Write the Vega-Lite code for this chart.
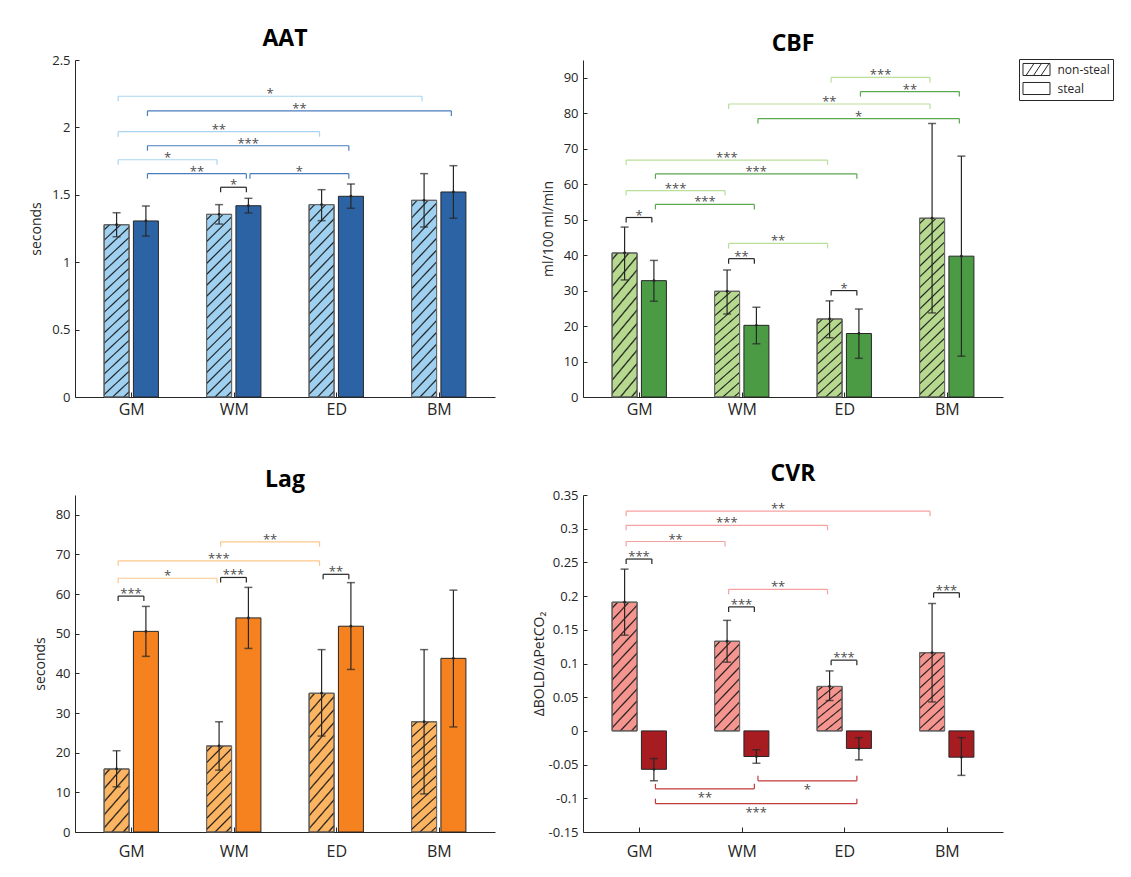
{
"$schema": "https://vega.github.io/schema/vega-lite/v6.json",
"background": "white",
"padding": {"left": 29, "top": 28, "right": 5, "bottom": 5},
"bounds": "flush",
"columns": 2,
"spacing": {"row": 98, "column": 88},
"resolve": {"scale": {"fill": "independent", "stroke": "independent"}, "legend": {"fill": "independent"}},
"params": [
{"name": "h55", "value": {"gradient": "linear", "x1": 0, "y1": 0, "x2": 0.548, "y2": 1.205, "stops": [
{"offset": 0.0514, "color": "rgba(0,0,0,0)"}, {"offset": 0.0714, "color": "#1e1e1e"}, {"offset": 0.0914, "color": "rgba(0,0,0,0)"},
{"offset": 0.1943, "color": "rgba(0,0,0,0)"}, {"offset": 0.2143, "color": "#1e1e1e"}, {"offset": 0.2343, "color": "rgba(0,0,0,0)"},
{"offset": 0.3371, "color": "rgba(0,0,0,0)"}, {"offset": 0.3571, "color": "#1e1e1e"}, {"offset": 0.3771, "color": "rgba(0,0,0,0)"},
{"offset": 0.48, "color": "rgba(0,0,0,0)"}, {"offset": 0.5, "color": "#1e1e1e"}, {"offset": 0.52, "color": "rgba(0,0,0,0)"},
{"offset": 0.6229, "color": "rgba(0,0,0,0)"}, {"offset": 0.6429, "color": "#1e1e1e"}, {"offset": 0.6629, "color": "rgba(0,0,0,0)"},
{"offset": 0.7657, "color": "rgba(0,0,0,0)"}, {"offset": 0.7857, "color": "#1e1e1e"}, {"offset": 0.8057, "color": "rgba(0,0,0,0)"},
{"offset": 0.9086, "color": "rgba(0,0,0,0)"}, {"offset": 0.9286, "color": "#1e1e1e"}, {"offset": 0.9486, "color": "rgba(0,0,0,0)"}]}},
{"name": "h85", "value": {"gradient": "linear", "x1": 0, "y1": 0, "x2": 0.35, "y2": 1.191, "stops": [
{"offset": 0.036, "color": "rgba(0,0,0,0)"}, {"offset": 0.05, "color": "#1e1e1e"}, {"offset": 0.064, "color": "rgba(0,0,0,0)"},
{"offset": 0.136, "color": "rgba(0,0,0,0)"}, {"offset": 0.15, "color": "#1e1e1e"}, {"offset": 0.164, "color": "rgba(0,0,0,0)"},
{"offset": 0.236, "color": "rgba(0,0,0,0)"}, {"offset": 0.25, "color": "#1e1e1e"}, {"offset": 0.264, "color": "rgba(0,0,0,0)"},
{"offset": 0.336, "color": "rgba(0,0,0,0)"}, {"offset": 0.35, "color": "#1e1e1e"}, {"offset": 0.364, "color": "rgba(0,0,0,0)"},
{"offset": 0.436, "color": "rgba(0,0,0,0)"}, {"offset": 0.45, "color": "#1e1e1e"}, {"offset": 0.464, "color": "rgba(0,0,0,0)"},
{"offset": 0.536, "color": "rgba(0,0,0,0)"}, {"offset": 0.55, "color": "#1e1e1e"}, {"offset": 0.564, "color": "rgba(0,0,0,0)"},
{"offset": 0.636, "color": "rgba(0,0,0,0)"}, {"offset": 0.65, "color": "#1e1e1e"}, {"offset": 0.664, "color": "rgba(0,0,0,0)"},
{"offset": 0.736, "color": "rgba(0,0,0,0)"}, {"offset": 0.75, "color": "#1e1e1e"}, {"offset": 0.764, "color": "rgba(0,0,0,0)"},
{"offset": 0.836, "color": "rgba(0,0,0,0)"}, {"offset": 0.85, "color": "#1e1e1e"}, {"offset": 0.864, "color": "rgba(0,0,0,0)"},
{"offset": 0.936, "color": "rgba(0,0,0,0)"}, {"offset": 0.95, "color": "#1e1e1e"}, {"offset": 0.964, "color": "rgba(0,0,0,0)"}]}},
{"name": "h120", "value": {"gradient": "linear", "x1": 0, "y1": 0, "x2": 0.241, "y2": 1.158, "stops": [
{"offset": 0.0277, "color": "rgba(0,0,0,0)"}, {"offset": 0.0385, "color": "#1e1e1e"}, {"offset": 0.0492, "color": "rgba(0,0,0,0)"},
{"offset": 0.1046, "color": "rgba(0,0,0,0)"}, {"offset": 0.1154, "color": "#1e1e1e"}, {"offset": 0.1262, "color": "rgba(0,0,0,0)"},
{"offset": 0.1815, "color": "rgba(0,0,0,0)"}, {"offset": 0.1923, "color": "#1e1e1e"}, {"offset": 0.2031, "color": "rgba(0,0,0,0)"},
{"offset": 0.2585, "color": "rgba(0,0,0,0)"}, {"offset": 0.2692, "color": "#1e1e1e"}, {"offset": 0.28, "color": "rgba(0,0,0,0)"},
{"offset": 0.3354, "color": "rgba(0,0,0,0)"}, {"offset": 0.3462, "color": "#1e1e1e"}, {"offset": 0.3569, "color": "rgba(0,0,0,0)"},
{"offset": 0.4123, "color": "rgba(0,0,0,0)"}, {"offset": 0.4231, "color": "#1e1e1e"}, {"offset": 0.4338, "color": "rgba(0,0,0,0)"},
{"offset": 0.4892, "color": "rgba(0,0,0,0)"}, {"offset": 0.5, "color": "#1e1e1e"}, {"offset": 0.5108, "color": "rgba(0,0,0,0)"},
{"offset": 0.5662, "color": "rgba(0,0,0,0)"}, {"offset": 0.5769, "color": "#1e1e1e"}, {"offset": 0.5877, "color": "rgba(0,0,0,0)"},
{"offset": 0.6431, "color": "rgba(0,0,0,0)"}, {"offset": 0.6538, "color": "#1e1e1e"}, {"offset": 0.6646, "color": "rgba(0,0,0,0)"},
{"offset": 0.72, "color": "rgba(0,0,0,0)"}, {"offset": 0.7308, "color": "#1e1e1e"}, {"offset": 0.7415, "color": "rgba(0,0,0,0)"},
{"offset": 0.7969, "color": "rgba(0,0,0,0)"}, {"offset": 0.8077, "color": "#1e1e1e"}, {"offset": 0.8185, "color": "rgba(0,0,0,0)"},
{"offset": 0.8738, "color": "rgba(0,0,0,0)"}, {"offset": 0.8846, "color": "#1e1e1e"}, {"offset": 0.8954, "color": "rgba(0,0,0,0)"},
{"offset": 0.9508, "color": "rgba(0,0,0,0)"}, {"offset": 0.9615, "color": "#1e1e1e"}, {"offset": 0.9723, "color": "rgba(0,0,0,0)"}]}},
{"name": "h185", "value": {"gradient": "linear", "x1": 0, "y1": 0, "x2": 0.151, "y2": 1.115, "stops": [
{"offset": 0.0189, "color": "rgba(0,0,0,0)"}, {"offset": 0.0263, "color": "#1e1e1e"}, {"offset": 0.0337, "color": "rgba(0,0,0,0)"},
{"offset": 0.0716, "color": "rgba(0,0,0,0)"}, {"offset": 0.0789, "color": "#1e1e1e"}, {"offset": 0.0863, "color": "rgba(0,0,0,0)"},
{"offset": 0.1242, "color": "rgba(0,0,0,0)"}, {"offset": 0.1316, "color": "#1e1e1e"}, {"offset": 0.139, "color": "rgba(0,0,0,0)"},
{"offset": 0.1768, "color": "rgba(0,0,0,0)"}, {"offset": 0.1842, "color": "#1e1e1e"}, {"offset": 0.1916, "color": "rgba(0,0,0,0)"},
{"offset": 0.2295, "color": "rgba(0,0,0,0)"}, {"offset": 0.2368, "color": "#1e1e1e"}, {"offset": 0.2442, "color": "rgba(0,0,0,0)"},
{"offset": 0.2821, "color": "rgba(0,0,0,0)"}, {"offset": 0.2895, "color": "#1e1e1e"}, {"offset": 0.2968, "color": "rgba(0,0,0,0)"},
{"offset": 0.3347, "color": "rgba(0,0,0,0)"}, {"offset": 0.3421, "color": "#1e1e1e"}, {"offset": 0.3495, "color": "rgba(0,0,0,0)"},
{"offset": 0.3874, "color": "rgba(0,0,0,0)"}, {"offset": 0.3947, "color": "#1e1e1e"}, {"offset": 0.4021, "color": "rgba(0,0,0,0)"},
{"offset": 0.44, "color": "rgba(0,0,0,0)"}, {"offset": 0.4474, "color": "#1e1e1e"}, {"offset": 0.4547, "color": "rgba(0,0,0,0)"},
{"offset": 0.4926, "color": "rgba(0,0,0,0)"}, {"offset": 0.5, "color": "#1e1e1e"}, {"offset": 0.5074, "color": "rgba(0,0,0,0)"},
{"offset": 0.5453, "color": "rgba(0,0,0,0)"}, {"offset": 0.5526, "color": "#1e1e1e"}, {"offset": 0.56, "color": "rgba(0,0,0,0)"},
{"offset": 0.5979, "color": "rgba(0,0,0,0)"}, {"offset": 0.6053, "color": "#1e1e1e"}, {"offset": 0.6126, "color": "rgba(0,0,0,0)"},
{"offset": 0.6505, "color": "rgba(0,0,0,0)"}, {"offset": 0.6579, "color": "#1e1e1e"}, {"offset": 0.6653, "color": "rgba(0,0,0,0)"},
{"offset": 0.7032, "color": "rgba(0,0,0,0)"}, {"offset": 0.7105, "color": "#1e1e1e"}, {"offset": 0.7179, "color": "rgba(0,0,0,0)"},
{"offset": 0.7558, "color": "rgba(0,0,0,0)"}, {"offset": 0.7632, "color": "#1e1e1e"}, {"offset": 0.7705, "color": "rgba(0,0,0,0)"},
{"offset": 0.8084, "color": "rgba(0,0,0,0)"}, {"offset": 0.8158, "color": "#1e1e1e"}, {"offset": 0.8232, "color": "rgba(0,0,0,0)"},
{"offset": 0.8611, "color": "rgba(0,0,0,0)"}, {"offset": 0.8684, "color": "#1e1e1e"}, {"offset": 0.8758, "color": "rgba(0,0,0,0)"},
{"offset": 0.9137, "color": "rgba(0,0,0,0)"}, {"offset": 0.9211, "color": "#1e1e1e"}, {"offset": 0.9284, "color": "rgba(0,0,0,0)"},
{"offset": 0.9663, "color": "rgba(0,0,0,0)"}, {"offset": 0.9737, "color": "#1e1e1e"}, {"offset": 0.9811, "color": "rgba(0,0,0,0)"}]}}
],
"datasets": {
"bars": [
{"panel": "AAT", "region": "GM", "cond": "non-steal", "mean": 1.278, "lo": 1.189, "hi": 1.367},
{"panel": "AAT", "region": "GM", "cond": "steal", "mean": 1.306, "lo": 1.194, "hi": 1.417},
{"panel": "AAT", "region": "WM", "cond": "non-steal", "mean": 1.355, "lo": 1.283, "hi": 1.427},
{"panel": "AAT", "region": "WM", "cond": "steal", "mean": 1.419, "lo": 1.365, "hi": 1.474},
{"panel": "AAT", "region": "ED", "cond": "non-steal", "mean": 1.427, "lo": 1.308, "hi": 1.538},
{"panel": "AAT", "region": "ED", "cond": "steal", "mean": 1.489, "lo": 1.4, "hi": 1.58},
{"panel": "AAT", "region": "BM", "cond": "non-steal", "mean": 1.459, "lo": 1.261, "hi": 1.657},
{"panel": "AAT", "region": "BM", "cond": "steal", "mean": 1.521, "lo": 1.326, "hi": 1.716},
{"panel": "CBF", "region": "GM", "cond": "non-steal", "mean": 40.6, "lo": 33.0, "hi": 47.9},
{"panel": "CBF", "region": "GM", "cond": "steal", "mean": 32.8, "lo": 27.0, "hi": 38.5},
{"panel": "CBF", "region": "WM", "cond": "non-steal", "mean": 29.8, "lo": 23.4, "hi": 35.8},
{"panel": "CBF", "region": "WM", "cond": "steal", "mean": 20.2, "lo": 15.0, "hi": 25.3},
{"panel": "CBF", "region": "ED", "cond": "non-steal", "mean": 22.0, "lo": 16.7, "hi": 27.1},
{"panel": "CBF", "region": "ED", "cond": "steal", "mean": 17.9, "lo": 10.9, "hi": 24.8},
{"panel": "CBF", "region": "BM", "cond": "non-steal", "mean": 50.4, "lo": 23.7, "hi": 77.1},
{"panel": "CBF", "region": "BM", "cond": "steal", "mean": 39.7, "lo": 11.5, "hi": 67.9},
{"panel": "Lag", "region": "GM", "cond": "non-steal", "mean": 15.9, "lo": 11.4, "hi": 20.5},
{"panel": "Lag", "region": "GM", "cond": "steal", "mean": 50.6, "lo": 44.3, "hi": 56.9},
{"panel": "Lag", "region": "WM", "cond": "non-steal", "mean": 21.7, "lo": 15.6, "hi": 27.8},
{"panel": "Lag", "region": "WM", "cond": "steal", "mean": 54.0, "lo": 46.3, "hi": 61.7},
{"panel": "Lag", "region": "ED", "cond": "non-steal", "mean": 35.0, "lo": 24.2, "hi": 46.0},
{"panel": "Lag", "region": "ED", "cond": "steal", "mean": 51.9, "lo": 41.0, "hi": 62.9},
{"panel": "Lag", "region": "BM", "cond": "non-steal", "mean": 27.8, "lo": 9.6, "hi": 46.0},
{"panel": "Lag", "region": "BM", "cond": "steal", "mean": 43.8, "lo": 26.5, "hi": 61.0},
{"panel": "CVR", "region": "GM", "cond": "non-steal", "mean": 0.191, "lo": 0.142, "hi": 0.24},
{"panel": "CVR", "region": "GM", "cond": "steal", "mean": -0.057, "lo": -0.074, "hi": -0.041},
{"panel": "CVR", "region": "WM", "cond": "non-steal", "mean": 0.133, "lo": 0.102, "hi": 0.164},
{"panel": "CVR", "region": "WM", "cond": "steal", "mean": -0.038, "lo": -0.048, "hi": -0.028},
{"panel": "CVR", "region": "ED", "cond": "non-steal", "mean": 0.066, "lo": 0.045, "hi": 0.089},
{"panel": "CVR", "region": "ED", "cond": "steal", "mean": -0.026, "lo": -0.043, "hi": -0.01},
{"panel": "CVR", "region": "BM", "cond": "non-steal", "mean": 0.116, "lo": 0.043, "hi": 0.189},
{"panel": "CVR", "region": "BM", "cond": "steal", "mean": -0.039, "lo": -0.066, "hi": -0.01}
],
"brackets": [
{"panel": "AAT", "r1": "GM", "c1": "ns", "r2": "BM", "c2": "ns", "lev": 2.231, "label": "*", "kind": "ns"},
{"panel": "AAT", "r1": "GM", "c1": "s", "r2": "BM", "c2": "s", "lev": 2.122, "label": "**", "kind": "s"},
{"panel": "AAT", "r1": "GM", "c1": "ns", "r2": "ED", "c2": "ns", "lev": 1.968, "label": "**", "kind": "ns"},
{"panel": "AAT", "r1": "GM", "c1": "s", "r2": "ED", "c2": "s", "lev": 1.864, "label": "***", "kind": "s"},
{"panel": "AAT", "r1": "GM", "c1": "ns", "r2": "WM", "c2": "ns", "lev": 1.76, "label": "*", "kind": "ns"},
{"panel": "AAT", "r1": "GM", "c1": "s", "r2": "WM", "c2": "s", "lev": 1.657, "label": "**", "kind": "s"},
{"panel": "AAT", "r1": "WM", "c1": "s", "r2": "ED", "c2": "s", "lev": 1.657, "label": "*", "kind": "s"},
{"panel": "AAT", "r1": "WM", "c1": "ns", "r2": "WM", "c2": "s", "lev": 1.556, "label": "*", "kind": "w"},
{"panel": "CBF", "r1": "ED", "c1": "ns", "r2": "BM", "c2": "ns", "lev": 90.1, "label": "***", "kind": "ns"},
{"panel": "CBF", "r1": "ED", "c1": "s", "r2": "BM", "c2": "s", "lev": 86.1, "label": "**", "kind": "s"},
{"panel": "CBF", "r1": "WM", "c1": "ns", "r2": "BM", "c2": "ns", "lev": 82.6, "label": "**", "kind": "ns"},
{"panel": "CBF", "r1": "WM", "c1": "s", "r2": "BM", "c2": "s", "lev": 78.5, "label": "*", "kind": "s"},
{"panel": "CBF", "r1": "GM", "c1": "ns", "r2": "ED", "c2": "ns", "lev": 66.8, "label": "***", "kind": "ns"},
{"panel": "CBF", "r1": "GM", "c1": "s", "r2": "ED", "c2": "s", "lev": 62.9, "label": "***", "kind": "s"},
{"panel": "CBF", "r1": "GM", "c1": "ns", "r2": "WM", "c2": "ns", "lev": 58.2, "label": "***", "kind": "ns"},
{"panel": "CBF", "r1": "GM", "c1": "s", "r2": "WM", "c2": "s", "lev": 54.3, "label": "***", "kind": "s"},
{"panel": "CBF", "r1": "GM", "c1": "ns", "r2": "GM", "c2": "s", "lev": 50.6, "label": "*", "kind": "w"},
{"panel": "CBF", "r1": "WM", "c1": "ns", "r2": "ED", "c2": "ns", "lev": 43.3, "label": "**", "kind": "ns"},
{"panel": "CBF", "r1": "WM", "c1": "ns", "r2": "WM", "c2": "s", "lev": 39.0, "label": "**", "kind": "w"},
{"panel": "CBF", "r1": "ED", "c1": "ns", "r2": "ED", "c2": "s", "lev": 30.0, "label": "*", "kind": "w"},
{"panel": "Lag", "r1": "WM", "c1": "ns", "r2": "ED", "c2": "ns", "lev": 73.2, "label": "**", "kind": "ns"},
{"panel": "Lag", "r1": "GM", "c1": "ns", "r2": "ED", "c2": "ns", "lev": 68.4, "label": "***", "kind": "ns"},
{"panel": "Lag", "r1": "GM", "c1": "ns", "r2": "WM", "c2": "ns", "lev": 64.0, "label": "*", "kind": "ns"},
{"panel": "Lag", "r1": "WM", "c1": "ns", "r2": "WM", "c2": "s", "lev": 64.2, "label": "***", "kind": "w"},
{"panel": "Lag", "r1": "GM", "c1": "ns", "r2": "GM", "c2": "s", "lev": 59.5, "label": "***", "kind": "w"},
{"panel": "Lag", "r1": "ED", "c1": "ns", "r2": "ED", "c2": "s", "lev": 65.0, "label": "**", "kind": "w"},
{"panel": "CVR", "r1": "GM", "c1": "ns", "r2": "BM", "c2": "ns", "lev": 0.326, "label": "**", "kind": "ns"},
{"panel": "CVR", "r1": "GM", "c1": "ns", "r2": "ED", "c2": "ns", "lev": 0.305, "label": "***", "kind": "ns"},
{"panel": "CVR", "r1": "GM", "c1": "ns", "r2": "WM", "c2": "ns", "lev": 0.281, "label": "**", "kind": "ns"},
{"panel": "CVR", "r1": "GM", "c1": "ns", "r2": "GM", "c2": "s", "lev": 0.255, "label": "***", "kind": "w"},
{"panel": "CVR", "r1": "WM", "c1": "ns", "r2": "ED", "c2": "ns", "lev": 0.21, "label": "**", "kind": "ns"},
{"panel": "CVR", "r1": "WM", "c1": "ns", "r2": "WM", "c2": "s", "lev": 0.184, "label": "***", "kind": "w"},
{"panel": "CVR", "r1": "BM", "c1": "ns", "r2": "BM", "c2": "s", "lev": 0.205, "label": "***", "kind": "w"},
{"panel": "CVR", "r1": "ED", "c1": "ns", "r2": "ED", "c2": "s", "lev": 0.105, "label": "***", "kind": "w"},
{"panel": "CVR", "r1": "GM", "c1": "s", "r2": "WM", "c2": "s", "lev": -0.086, "label": "**", "kind": "s"},
{"panel": "CVR", "r1": "WM", "c1": "s", "r2": "ED", "c2": "s", "lev": -0.074, "label": "*", "kind": "s"},
{"panel": "CVR", "r1": "GM", "c1": "s", "r2": "ED", "c2": "s", "lev": -0.108, "label": "***", "kind": "s"}
]
},
"concat": [
{
"width": 420, "height": 337,
"title": {"text": "AAT"},
"layer": [
{"data": {"name": "bars"},
 "transform": [{"filter": "datum.panel == 'AAT'"}, {"calculate": "indexof(['GM','WM','ED','BM'], datum.region) + 1 + (datum.cond == 'steal' ? 0.143 : -0.143)", "as": "xp"}],
 "layer": [
  {"mark": {"type": "bar", "size": 25, "stroke": "#262626", "strokeWidth": 1},
   "encoding": {
    "x": {"field": "xp", "type": "quantitative", "scale": {"domain": [0.5, 4.5], "nice": false, "zero": false}, "axis": {"values": [1, 2, 3, 4], "labelExpr": "['GM','WM','ED','BM'][datum.value - 1]", "title": null, "grid": false, "tickSize": -5, "labelPadding": 9, "labelFontSize": 16, "labelOverlap": false, "labelColor": "#262626", "domainColor": "#262626", "tickColor": "#262626"}},
    "y": {"field": "mean", "type": "quantitative", "scale": {"domain": [0, 2.5], "nice": false, "zero": false}, "axis": {"title": "seconds", "values": [0, 0.5, 1, 1.5, 2, 2.5], "tickCount": 12, "labelExpr": "'' + datum.value", "grid": false, "tickSize": -4, "labelPadding": 9, "titlePadding": 8, "labelFontSize": 13, "titleFontSize": 14, "titleFontWeight": "normal", "labelOverlap": false, "labelColor": "#262626", "titleColor": "#262626", "domainColor": "#262626", "tickColor": "#262626"}},
    "fill": {"field": "cond", "type": "nominal", "scale": {"domain": ["non-steal", "steal"], "range": ["#9fd0ef", "#2b63a5"]}, "legend": null}}},
  {"transform": [{"filter": "datum.cond == 'non-steal'"}],
   "mark": {"type": "bar", "size": 25, "stroke": "#6e6e6e", "strokeWidth": 1, "fill": {"expr": "h185"}},
   "encoding": {"x": {"field": "xp", "type": "quantitative"}, "y": {"field": "mean", "type": "quantitative"}}},
  {"mark": {"type": "rule", "color": "#262626", "strokeWidth": 1.2},
   "encoding": {"x": {"field": "xp", "type": "quantitative"}, "y": {"field": "lo", "type": "quantitative"}, "y2": {"field": "hi"}}},
  {"transform": [{"fold": ["lo", "hi"], "as": ["end", "ev"]}],
   "mark": {"type": "tick", "orient": "horizontal", "size": 8, "thickness": 1.5, "color": "#262626"},
   "encoding": {"x": {"field": "xp", "type": "quantitative"}, "y": {"field": "ev", "type": "quantitative"}}},
  {"mark": {"type": "point", "filled": true, "size": 8, "color": "#262626", "opacity": 1},
   "encoding": {"x": {"field": "xp", "type": "quantitative"}, "y": {"field": "mean", "type": "quantitative"}}}
 ]},
{"data": {"name": "brackets"},
 "transform": [{"filter": "datum.panel == 'AAT'"},
  {"calculate": "indexof(['GM','WM','ED','BM'], datum.r1) + 1 + (datum.c1 == 's' ? 0.143 : -0.143) + 0.015", "as": "xa"},
  {"calculate": "indexof(['GM','WM','ED','BM'], datum.r2) + 1 + (datum.c2 == 's' ? 0.143 : -0.143) - 0.02", "as": "xb"},
  {"calculate": "(datum.xa + datum.xb) / 2", "as": "xm"}],
 "layer": [
  {"mark": {"type": "rule", "strokeWidth": 1.2},
   "encoding": {"x": {"field": "xa", "type": "quantitative"}, "x2": {"field": "xb"}, "y": {"field": "lev", "type": "quantitative"},
    "stroke": {"field": "kind", "type": "nominal", "scale": {"domain": ["ns", "s", "w"], "range": ["#a9d4f0", "#4a7dbf", "#262626"]}, "legend": null}}},
  {"transform": [{"fold": ["xa", "xb"], "as": ["side", "xe"]}],
   "mark": {"type": "rule", "strokeWidth": 1.2, "y2Offset": 5},
   "encoding": {"x": {"field": "xe", "type": "quantitative"}, "y": {"field": "lev", "type": "quantitative"}, "y2": {"field": "lev"},
    "stroke": {"field": "kind", "type": "nominal", "legend": null}}},
  {"mark": {"type": "text", "fontSize": 13, "baseline": "alphabetic", "dy": 2, "color": "#4d4d4d"},
   "encoding": {"x": {"field": "xm", "type": "quantitative"}, "y": {"field": "lev", "type": "quantitative"}, "text": {"field": "label"}}}
 ]}
]
},
{
"width": 420, "height": 337,
"title": {"text": "CBF"},
"layer": [
{"data": {"name": "bars"},
 "transform": [{"filter": "datum.panel == 'CBF'"}, {"calculate": "indexof(['GM','WM','ED','BM'], datum.region) + 1 + (datum.cond == 'steal' ? 0.143 : -0.143)", "as": "xp"}],
 "layer": [
  {"mark": {"type": "bar", "size": 25, "stroke": "#262626", "strokeWidth": 1},
   "encoding": {
    "x": {"field": "xp", "type": "quantitative", "scale": {"domain": [0.5, 4.5], "nice": false, "zero": false}, "axis": {"values": [1, 2, 3, 4], "labelExpr": "['GM','WM','ED','BM'][datum.value - 1]", "title": null, "grid": false, "tickSize": -5, "labelPadding": 9, "labelFontSize": 16, "labelOverlap": false, "labelColor": "#262626", "domainColor": "#262626", "tickColor": "#262626"}},
    "y": {"field": "mean", "type": "quantitative", "scale": {"domain": [0, 95], "nice": false, "zero": false}, "axis": {"title": "ml/100 ml/min", "values": [0, 10, 20, 30, 40, 50, 60, 70, 80, 90], "tickCount": 12, "labelExpr": "'' + datum.value", "grid": false, "tickSize": -4, "labelPadding": 9, "titlePadding": 8, "labelFontSize": 13, "titleFontSize": 14, "titleFontWeight": "normal", "labelOverlap": false, "labelColor": "#262626", "titleColor": "#262626", "domainColor": "#262626", "tickColor": "#262626"}},
    "fill": {"field": "cond", "type": "nominal", "scale": {"domain": ["non-steal", "steal"], "range": ["#b6d98f", "#4b9b45"]},
     "legend": {"title": null, "orient": "none", "legendX": 436, "legendY": -1, "padding": 3, "strokeColor": "#262626", "fillColor": "white", "cornerRadius": 0, "labelFontSize": 12, "labelColor": "#262626", "labelOffset": 20.5, "rowPadding": 2, "symbolSize": 196, "symbolType": "M-0.93,-0.86H2.93V0.86H-0.93Z", "symbolStrokeColor": "#262626", "symbolStrokeWidth": 1,
      "encode": {"symbols": {"update": {"shape": {"signal": "datum.value == 'non-steal' ? 'M-0.93,-0.86H2.93V0.86H-0.93Z M-0.5,0.86L0.64,-0.86 M0.57,0.86L1.71,-0.86 M1.64,0.86L2.79,-0.86' : 'M-0.93,-0.86H2.93V0.86H-0.93Z'"}, "fill": {"value": "white"}, "fillOpacity": {"value": 0}, "stroke": {"value": "#262626"}, "strokeWidth": {"value": 1}}}}}}}},
  {"transform": [{"filter": "datum.cond == 'non-steal'"}],
   "mark": {"type": "bar", "size": 25, "stroke": "#6e6e6e", "strokeWidth": 1, "fill": {"expr": "datum.mean > 45 ? h185 : datum.mean > 25 ? h120 : h85"}},
   "encoding": {"x": {"field": "xp", "type": "quantitative"}, "y": {"field": "mean", "type": "quantitative"}}},
  {"mark": {"type": "rule", "color": "#262626", "strokeWidth": 1.2},
   "encoding": {"x": {"field": "xp", "type": "quantitative"}, "y": {"field": "lo", "type": "quantitative"}, "y2": {"field": "hi"}}},
  {"transform": [{"fold": ["lo", "hi"], "as": ["end", "ev"]}],
   "mark": {"type": "tick", "orient": "horizontal", "size": 8, "thickness": 1.5, "color": "#262626"},
   "encoding": {"x": {"field": "xp", "type": "quantitative"}, "y": {"field": "ev", "type": "quantitative"}}},
  {"mark": {"type": "point", "filled": true, "size": 8, "color": "#262626", "opacity": 1},
   "encoding": {"x": {"field": "xp", "type": "quantitative"}, "y": {"field": "mean", "type": "quantitative"}}}
 ]},
{"data": {"name": "brackets"},
 "transform": [{"filter": "datum.panel == 'CBF'"},
  {"calculate": "indexof(['GM','WM','ED','BM'], datum.r1) + 1 + (datum.c1 == 's' ? 0.143 : -0.143) + 0.015", "as": "xa"},
  {"calculate": "indexof(['GM','WM','ED','BM'], datum.r2) + 1 + (datum.c2 == 's' ? 0.143 : -0.143) - 0.02", "as": "xb"},
  {"calculate": "(datum.xa + datum.xb) / 2", "as": "xm"}],
 "layer": [
  {"mark": {"type": "rule", "strokeWidth": 1.2},
   "encoding": {"x": {"field": "xa", "type": "quantitative"}, "x2": {"field": "xb"}, "y": {"field": "lev", "type": "quantitative"},
    "stroke": {"field": "kind", "type": "nominal", "scale": {"domain": ["ns", "s", "w"], "range": ["#b9df98", "#5aa84f", "#262626"]}, "legend": null}}},
  {"transform": [{"fold": ["xa", "xb"], "as": ["side", "xe"]}],
   "mark": {"type": "rule", "strokeWidth": 1.2, "y2Offset": 5},
   "encoding": {"x": {"field": "xe", "type": "quantitative"}, "y": {"field": "lev", "type": "quantitative"}, "y2": {"field": "lev"},
    "stroke": {"field": "kind", "type": "nominal", "legend": null}}},
  {"mark": {"type": "text", "fontSize": 13, "baseline": "alphabetic", "dy": 2, "color": "#4d4d4d"},
   "encoding": {"x": {"field": "xm", "type": "quantitative"}, "y": {"field": "lev", "type": "quantitative"}, "text": {"field": "label"}}}
 ]}
]
},
{
"width": 420, "height": 337,
"title": {"text": "Lag"},
"layer": [
{"data": {"name": "bars"},
 "transform": [{"filter": "datum.panel == 'Lag'"}, {"calculate": "indexof(['GM','WM','ED','BM'], datum.region) + 1 + (datum.cond == 'steal' ? 0.143 : -0.143)", "as": "xp"}],
 "layer": [
  {"mark": {"type": "bar", "size": 25, "stroke": "#262626", "strokeWidth": 1},
   "encoding": {
    "x": {"field": "xp", "type": "quantitative", "scale": {"domain": [0.5, 4.5], "nice": false, "zero": false}, "axis": {"values": [1, 2, 3, 4], "labelExpr": "['GM','WM','ED','BM'][datum.value - 1]", "title": null, "grid": false, "tickSize": -5, "labelPadding": 16, "labelFontSize": 16, "labelOverlap": false, "labelColor": "#262626", "domainColor": "#262626", "tickColor": "#262626"}},
    "y": {"field": "mean", "type": "quantitative", "scale": {"domain": [0, 85], "nice": false, "zero": false}, "axis": {"title": "seconds", "values": [0, 10, 20, 30, 40, 50, 60, 70, 80], "tickCount": 12, "labelExpr": "'' + datum.value", "grid": false, "tickSize": -4, "labelPadding": 9, "titlePadding": 8, "labelFontSize": 13, "titleFontSize": 14, "titleFontWeight": "normal", "labelOverlap": false, "labelColor": "#262626", "titleColor": "#262626", "domainColor": "#262626", "tickColor": "#262626"}},
    "fill": {"field": "cond", "type": "nominal", "scale": {"domain": ["non-steal", "steal"], "range": ["#fbb462", "#f5821f"]}, "legend": null}}},
  {"transform": [{"filter": "datum.cond == 'non-steal'"}],
   "mark": {"type": "bar", "size": 25, "stroke": "#6e6e6e", "strokeWidth": 1, "fill": {"expr": "datum.mean > 25 ? h120 : datum.mean > 18 ? h85 : h55"}},
   "encoding": {"x": {"field": "xp", "type": "quantitative"}, "y": {"field": "mean", "type": "quantitative"}}},
  {"mark": {"type": "rule", "color": "#262626", "strokeWidth": 1.2},
   "encoding": {"x": {"field": "xp", "type": "quantitative"}, "y": {"field": "lo", "type": "quantitative"}, "y2": {"field": "hi"}}},
  {"transform": [{"fold": ["lo", "hi"], "as": ["end", "ev"]}],
   "mark": {"type": "tick", "orient": "horizontal", "size": 8, "thickness": 1.5, "color": "#262626"},
   "encoding": {"x": {"field": "xp", "type": "quantitative"}, "y": {"field": "ev", "type": "quantitative"}}},
  {"mark": {"type": "point", "filled": true, "size": 8, "color": "#262626", "opacity": 1},
   "encoding": {"x": {"field": "xp", "type": "quantitative"}, "y": {"field": "mean", "type": "quantitative"}}}
 ]},
{"data": {"name": "brackets"},
 "transform": [{"filter": "datum.panel == 'Lag'"},
  {"calculate": "indexof(['GM','WM','ED','BM'], datum.r1) + 1 + (datum.c1 == 's' ? 0.143 : -0.143) + 0.015", "as": "xa"},
  {"calculate": "indexof(['GM','WM','ED','BM'], datum.r2) + 1 + (datum.c2 == 's' ? 0.143 : -0.143) - 0.02", "as": "xb"},
  {"calculate": "(datum.xa + datum.xb) / 2", "as": "xm"}],
 "layer": [
  {"mark": {"type": "rule", "strokeWidth": 1.2},
   "encoding": {"x": {"field": "xa", "type": "quantitative"}, "x2": {"field": "xb"}, "y": {"field": "lev", "type": "quantitative"},
    "stroke": {"field": "kind", "type": "nominal", "scale": {"domain": ["ns", "s", "w"], "range": ["#fcc78a", "#f5a04a", "#262626"]}, "legend": null}}},
  {"transform": [{"fold": ["xa", "xb"], "as": ["side", "xe"]}],
   "mark": {"type": "rule", "strokeWidth": 1.2, "y2Offset": 5},
   "encoding": {"x": {"field": "xe", "type": "quantitative"}, "y": {"field": "lev", "type": "quantitative"}, "y2": {"field": "lev"},
    "stroke": {"field": "kind", "type": "nominal", "legend": null}}},
  {"mark": {"type": "text", "fontSize": 13, "baseline": "alphabetic", "dy": 2, "color": "#4d4d4d"},
   "encoding": {"x": {"field": "xm", "type": "quantitative"}, "y": {"field": "lev", "type": "quantitative"}, "text": {"field": "label"}}}
 ]}
]
},
{
"width": 420, "height": 337,
"title": {"text": "CVR"},
"layer": [
{"data": {"name": "bars"},
 "transform": [{"filter": "datum.panel == 'CVR'"}, {"calculate": "indexof(['GM','WM','ED','BM'], datum.region) + 1 + (datum.cond == 'steal' ? 0.143 : -0.143)", "as": "xp"}],
 "layer": [
  {"mark": {"type": "bar", "size": 25, "stroke": "#262626", "strokeWidth": 1},
   "encoding": {
    "x": {"field": "xp", "type": "quantitative", "scale": {"domain": [0.5, 4.5], "nice": false, "zero": false}, "axis": {"values": [1, 2, 3, 4], "labelExpr": "['GM','WM','ED','BM'][datum.value - 1]", "title": null, "grid": false, "tickSize": -5, "labelPadding": 16, "labelFontSize": 16, "labelOverlap": false, "labelColor": "#262626", "domainColor": "#262626", "tickColor": "#262626"}},
    "y": {"field": "mean", "type": "quantitative", "scale": {"domain": [-0.15, 0.35], "nice": false, "zero": false}, "axis": {"title": "ΔBOLD/ΔPetCO₂", "values": [-0.15, -0.1, -0.05, 0, 0.05, 0.1, 0.15, 0.2, 0.25, 0.3, 0.35], "tickCount": 12, "labelExpr": "'' + datum.value", "grid": false, "tickSize": -4, "labelPadding": 9, "titlePadding": 2, "labelFontSize": 13, "titleFontSize": 14, "titleFontWeight": "normal", "labelOverlap": false, "labelColor": "#262626", "titleColor": "#262626", "domainColor": "#262626", "tickColor": "#262626"}},
    "fill": {"field": "cond", "type": "nominal", "scale": {"domain": ["non-steal", "steal"], "range": ["#f4958f", "#a61c21"]}, "legend": null}}},
  {"transform": [{"filter": "datum.cond == 'non-steal'"}],
   "mark": {"type": "bar", "size": 25, "stroke": "#6e6e6e", "strokeWidth": 1, "fill": {"expr": "datum.mean > 0.16 ? h120 : datum.mean > 0.09 ? h85 : h55"}},
   "encoding": {"x": {"field": "xp", "type": "quantitative"}, "y": {"field": "mean", "type": "quantitative"}}},
  {"mark": {"type": "rule", "color": "#262626", "strokeWidth": 1.2},
   "encoding": {"x": {"field": "xp", "type": "quantitative"}, "y": {"field": "lo", "type": "quantitative"}, "y2": {"field": "hi"}}},
  {"transform": [{"fold": ["lo", "hi"], "as": ["end", "ev"]}],
   "mark": {"type": "tick", "orient": "horizontal", "size": 8, "thickness": 1.5, "color": "#262626"},
   "encoding": {"x": {"field": "xp", "type": "quantitative"}, "y": {"field": "ev", "type": "quantitative"}}},
  {"mark": {"type": "point", "filled": true, "size": 8, "color": "#262626", "opacity": 1},
   "encoding": {"x": {"field": "xp", "type": "quantitative"}, "y": {"field": "mean", "type": "quantitative"}}}
 ]},
{"mark": {"type": "rule", "color": "#262626", "strokeWidth": 1.2},
 "encoding": {"y": {"datum": 0, "type": "quantitative"}}},
{"data": {"name": "brackets"},
 "transform": [{"filter": "datum.panel == 'CVR'"},
  {"calculate": "indexof(['GM','WM','ED','BM'], datum.r1) + 1 + (datum.c1 == 's' ? 0.143 : -0.143) + 0.015", "as": "xa"},
  {"calculate": "indexof(['GM','WM','ED','BM'], datum.r2) + 1 + (datum.c2 == 's' ? 0.143 : -0.143) - 0.02", "as": "xb"},
  {"calculate": "(datum.xa + datum.xb) / 2", "as": "xm"}],
 "layer": [
  {"mark": {"type": "rule", "strokeWidth": 1.2},
   "encoding": {"x": {"field": "xa", "type": "quantitative"}, "x2": {"field": "xb"}, "y": {"field": "lev", "type": "quantitative"},
    "stroke": {"field": "kind", "type": "nominal", "scale": {"domain": ["ns", "s", "w"], "range": ["#f4a3a1", "#c43a3c", "#262626"]}, "legend": null}}},
  {"transform": [{"filter": "datum.lev > 0"}, {"fold": ["xa", "xb"], "as": ["side", "xe"]}],
   "mark": {"type": "rule", "strokeWidth": 1.2, "y2Offset": 5},
   "encoding": {"x": {"field": "xe", "type": "quantitative"}, "y": {"field": "lev", "type": "quantitative"}, "y2": {"field": "lev"},
    "stroke": {"field": "kind", "type": "nominal", "legend": null}}},
  {"transform": [{"filter": "datum.lev < 0"}, {"fold": ["xa", "xb"], "as": ["side", "xe"]}],
   "mark": {"type": "rule", "strokeWidth": 1.2, "y2Offset": -5},
   "encoding": {"x": {"field": "xe", "type": "quantitative"}, "y": {"field": "lev", "type": "quantitative"}, "y2": {"field": "lev"},
    "stroke": {"field": "kind", "type": "nominal", "legend": null}}},
  {"transform": [{"filter": "datum.lev > 0"}],
   "mark": {"type": "text", "fontSize": 13, "baseline": "alphabetic", "dy": 2, "color": "#4d4d4d"},
   "encoding": {"x": {"field": "xm", "type": "quantitative"}, "y": {"field": "lev", "type": "quantitative"}, "text": {"field": "label"}}},
  {"transform": [{"filter": "datum.lev < 0"}],
   "mark": {"type": "text", "fontSize": 13, "baseline": "alphabetic", "dy": 13, "color": "#4d4d4d"},
   "encoding": {"x": {"field": "xm", "type": "quantitative"}, "y": {"field": "lev", "type": "quantitative"}, "text": {"field": "label"}}}
 ]}
]
}
],
"config": {
 "font": "Open Sans",
 "view": {"stroke": null},
 "title": {"fontSize": 23, "fontWeight": "bold", "color": "#000000", "frame": "group", "anchor": "middle", "baseline": "alphabetic", "offset": 3},
 "axis": {"grid": false, "domainColor": "#262626", "tickColor": "#262626", "labelColor": "#262626", "titleColor": "#262626", "titleFontWeight": "normal", "labelFontSize": 13, "titleFontSize": 14, "domainWidth": 1, "tickWidth": 1}
}
}
